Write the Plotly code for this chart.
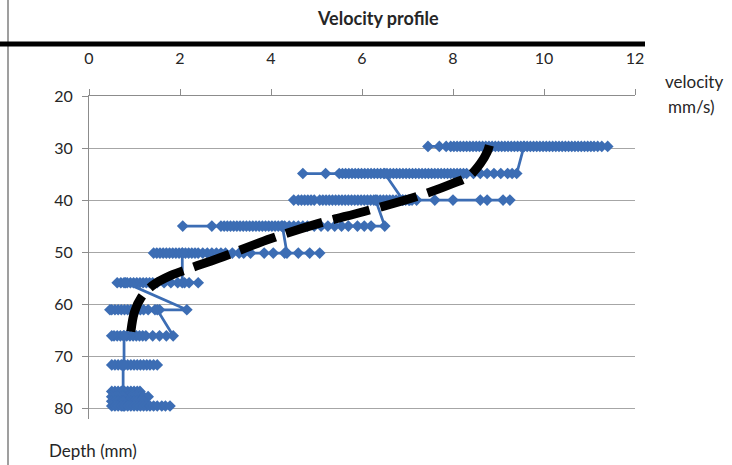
import plotly.graph_objects as go

# ---- data (velocity in mm/s per depth level, in drawing order) ----
depth_levels = [29.7, 34.9, 40.0, 45.0, 50.2, 55.9, 61.1, 66.1, 71.7, 76.8, 77.8, 78.7, 79.6]

v_d30 = [7.45, 7.7, 7.85, 7.95, 8.02, 8.09, 8.16, 8.23, 8.3, 8.37, 8.44, 8.51, 8.58, 8.65, 8.72,
         8.79, 8.86, 8.93, 9.0, 9.07, 9.14, 9.21, 9.28, 9.35, 9.42, 9.49, 9.56, 9.63, 9.7, 9.77,
         9.84, 9.91, 9.98, 10.05, 10.12, 10.19, 10.26, 10.33, 10.4, 10.47, 10.54, 10.61, 10.68,
         10.75, 10.82, 10.89, 10.96, 11.03, 11.1, 11.18, 11.27, 11.4, 9.56]
v_d35 = [9.4, 9.3, 9.2, 9.05, 8.9, 8.75, 8.6, 8.45, 8.3, 8.23, 8.16, 8.09, 8.02, 7.95, 7.88, 7.81,
         7.74, 7.67, 7.6, 7.53, 7.46, 7.39, 7.32, 7.25, 7.18, 7.11, 7.04, 6.97, 6.9, 6.83, 6.76,
         6.69, 6.62, 6.55, 6.48, 6.41, 6.34, 6.27, 6.2, 6.13, 6.06, 5.99, 5.92, 5.85, 5.78, 5.71,
         5.64, 5.57, 5.5, 5.2, 4.7, 6.5]
v_d40 = [6.9, 7.05, 7.2, 7.6, 8.0, 8.6, 8.75, 9.1, 9.25, 7.1, 7.03, 6.96, 6.89, 6.82, 6.75, 6.68,
         6.61, 6.54, 6.47, 6.4, 6.33, 6.26, 6.19, 6.12, 6.05, 5.98, 5.91, 5.84, 5.77, 5.7, 5.63,
         5.56, 5.49, 5.42, 5.35, 5.28, 5.21, 5.14, 5.07, 4.95, 4.88, 4.81, 4.74, 4.67, 4.6, 4.5, 6.3]
v_d45 = [6.5, 6.2, 6.05, 5.9, 5.7, 5.55, 5.4, 5.25, 5.1, 4.95, 4.8, 4.7, 4.6, 4.5, 4.4, 4.3, 4.23,
         4.16, 4.09, 4.02, 3.95, 3.88, 3.81, 3.74, 3.67, 3.6, 3.53, 3.46, 3.39, 3.32, 3.25, 3.18,
         3.11, 3.04, 2.97, 2.9, 2.7, 2.06, 4.25]
v_d50 = [4.35, 4.6, 4.85, 5.07, 4.3, 4.05, 3.85, 3.55, 3.4, 3.3, 3.15, 3.0, 2.9, 2.8, 2.7, 2.6,
         2.5, 2.4, 2.33, 2.26, 2.19, 2.12, 2.05, 1.98, 1.91, 1.84, 1.77, 1.7, 1.63, 1.56, 1.49,
         1.42, 2.05]
v_d56 = [2.05, 2.2, 2.4, 2.1, 1.95, 1.8, 1.65, 1.5, 1.4, 1.33, 1.26, 1.19, 1.12, 1.05, 0.98,
         0.91, 0.84, 0.77, 0.7, 0.62, 0.8]
v_d61 = [2.15, 1.55, 1.45, 1.3, 1.2, 1.13, 1.06, 0.99, 0.92, 0.85, 0.78, 0.71, 0.64, 0.57, 0.5,
         0.46, 1.5]
v_d66 = [1.85, 1.7, 1.55, 1.4, 1.25, 1.18, 1.11, 1.04, 0.97, 0.9, 0.83, 0.76, 0.69, 0.62, 0.55,
         0.5, 0.77]
v_d71 = [0.77, 0.5, 0.57, 0.64, 0.71, 0.78, 0.85, 0.92, 0.99, 1.06, 1.13, 1.2, 1.27, 1.34, 1.42,
         1.5, 0.75]
v_d77a = [0.75, 0.5, 0.57, 0.64, 0.71, 0.78, 0.85, 0.92, 0.99, 1.06, 1.12, 0.75]
v_d77b = [0.75, 0.5, 0.57, 0.64, 0.71, 0.78, 0.85, 0.92, 0.99, 1.06, 1.13, 1.2, 1.3, 0.75]
v_d78 = [0.75, 0.5, 0.57, 0.64, 0.71, 0.78, 0.85, 0.92, 0.99, 1.06, 1.13, 1.2, 0.75]
v_d80 = [0.75, 0.5, 0.57, 0.64, 0.71, 0.78, 0.85, 0.92, 0.99, 1.06, 1.13, 1.2, 1.27, 1.34, 1.42,
         1.5, 1.6, 1.68, 1.78]

level_velocities = [v_d30, v_d35, v_d40, v_d45, v_d50, v_d56, v_d61, v_d66, v_d71,
                    v_d77a, v_d77b, v_d78, v_d80]

# fitted profile (dashed black curve)
trend_v = [0.92, 1.0, 1.15, 1.4, 1.8, 2.2, 2.85, 4.0, 5.05, 6.05, 7.25, 8.0, 8.35, 8.6, 8.75, 8.8]
trend_d = [65.3, 61.5, 58.7, 56.4, 54.5, 53.2, 51.2, 47.4, 44.5, 42.2, 39.2, 36.8, 35.4, 33.0, 30.8, 29.5]

x_ticks = [0, 2, 4, 6, 8, 10, 12]
y_ticks = [20, 30, 40, 50, 60, 70, 80]

# ---- build series ----
xs, ys = [], []
for d, vals in zip(depth_levels, level_velocities):
    xs.extend(vals)
    ys.extend([d] * len(vals))

W, H = 732, 465
L, R, T, B = 89, 97, 96, 46
PW, PH = W - L - R, H - T - B


def px(xp):
    return (xp - L) / PW


def py(yp):
    return (H - B - yp) / PH


BLUE = "#3C6DB4"
FONT = "Lato"
TXT = "#262626"
GRID = "#8C8C8C"

fig = go.Figure()
fig.add_trace(go.Scatter(
    x=xs, y=ys, mode="lines+markers",
    line=dict(color=BLUE, width=2.75),
    marker=dict(symbol="diamond", size=9, color=BLUE),
    showlegend=False, hoverinfo="skip",
))
fig.add_trace(go.Scatter(
    x=trend_v, y=trend_d, mode="lines",
    line=dict(color="black", width=9, dash="38px,11px", shape="spline", smoothing=1.0),
    showlegend=False, hoverinfo="skip",
))

fig.update_layout(
    width=W, height=H,
    margin=dict(l=L, r=R, t=T, b=B, pad=0),
    paper_bgcolor="white", plot_bgcolor="white",
    font=dict(family=FONT, size=16, color=TXT),
    xaxis=dict(
        range=[0, 12], side="top", tickvals=x_ticks, ticktext=[str(t) for t in x_ticks],
        showgrid=False, zeroline=False, showline=True, linecolor=GRID, linewidth=1,
        ticks="outside", ticklen=6, tickcolor=GRID, ticklabelstandoff=19,
        tickfont=dict(family=FONT, size=16, color=TXT),
    ),
    yaxis=dict(
        range=[82.1, 20], tickvals=y_ticks, ticktext=[str(t) for t in y_ticks],
        showgrid=True, gridcolor="#A6A6A6", gridwidth=1, zeroline=False,
        showline=True, linecolor=GRID, linewidth=1,
        ticks="outside", ticklen=6, tickcolor=GRID, ticklabelstandoff=6,
        tickfont=dict(family=FONT, size=16, color=TXT),
    ),
    shapes=[
        dict(type="line", xref="paper", yref="paper", x0=px(8), x1=px(8), y0=py(0), y1=py(465),
             line=dict(color="#7F7F7F", width=1.5)),
        dict(type="line", xref="paper", yref="paper", x0=px(0), x1=px(645), y0=py(44), y1=py(44),
             line=dict(color="black", width=5)),
    ],
    annotations=[
        dict(text="<b>Velocity profile</b>", xref="paper", yref="paper", x=px(378), y=py(18),
             showarrow=False, font=dict(family=FONT, size=18, color=TXT), xanchor="center", yanchor="middle"),
        dict(text="velocity", xref="paper", yref="paper", x=px(694), y=py(82),
             showarrow=False, font=dict(family=FONT, size=17, color=TXT), xanchor="center", yanchor="middle"),
        dict(text="mm/s)", xref="paper", yref="paper", x=px(691), y=py(107),
             showarrow=False, font=dict(family=FONT, size=17, color=TXT), xanchor="center", yanchor="middle"),
        dict(text="Depth (mm)", xref="paper", yref="paper", x=px(47), y=py(450),
             showarrow=False, font=dict(family=FONT, size=17, color=TXT), xanchor="left", yanchor="middle"),
    ],
)

fig.write_html("out.html")
